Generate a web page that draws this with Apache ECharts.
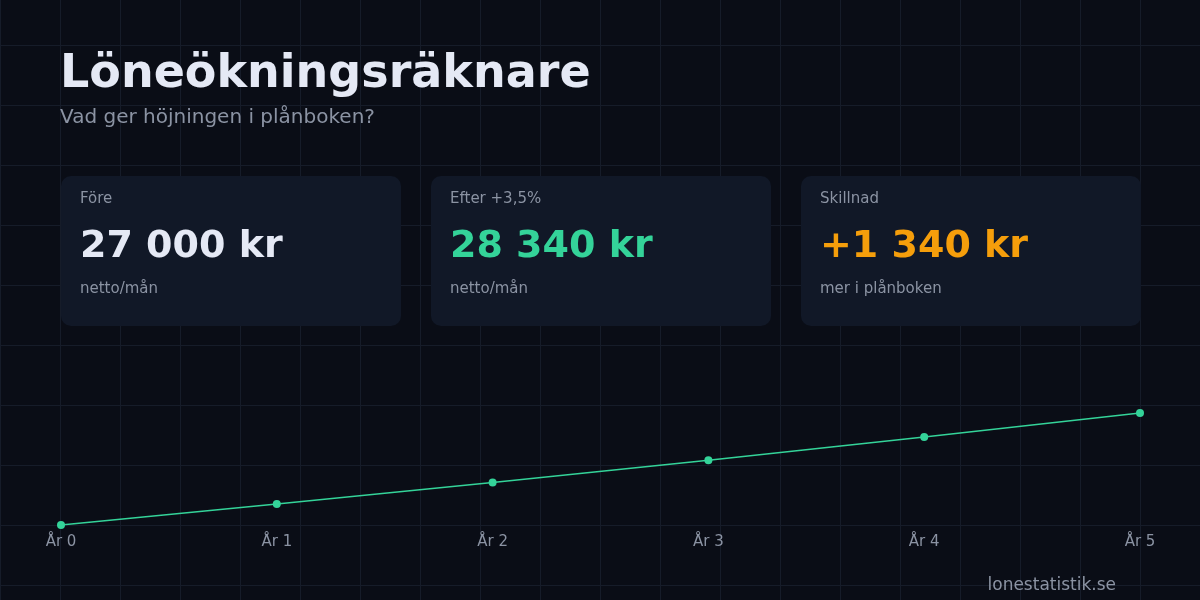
<!DOCTYPE html>
<html><head><meta charset="utf-8">
<script src="https://cdn.jsdelivr.net/npm/echarts@6/dist/echarts.min.js"></script>
<style>html,body{margin:0;padding:0;background:#0a0d16}#c{width:1200px;height:600px}</style>
</head><body><div id="c"></div>
<script>
const years = ['År 0','År 1','År 2','År 3','År 4','År 5'];
const salary = [27000, 27945, 28923, 29935, 30983, 32068];
const cards = [
  {label:'Före', value:'27 000 kr', sub:'netto/mån', color:'#e5e9f5'},
  {label:'Efter +3,5%', value:'28 340 kr', sub:'netto/mån', color:'#34d399'},
  {label:'Skillnad', value:'+1 340 kr', sub:'mer i plånboken', color:'#f59e0b'}
];
const font = 'DejaVu Sans';
function t(x, y, text, size, color, weight, align){
  return {type:'text', x:x, y:y, style:{text:text, fontFamily:font, fontSize:size, fontWeight:weight||'normal', fill:color, align:align||'left', verticalAlign:'middle'}};
}
const g = [];
for (let x = 0; x <= 1200; x += 60) g.push({type:'line', silent:true, z:-10, shape:{x1:x+0.5,y1:0,x2:x+0.5,y2:600}, style:{stroke:'#161c29',lineWidth:1}});
for (let y = 45; y <= 600; y += 60) g.push({type:'line', silent:true, z:-10, shape:{x1:0,y1:y+0.5,x2:1200,y2:y+0.5}, style:{stroke:'#161c29',lineWidth:1}});
g.push(t(60, 75, 'Löneökningsräknare', 46, '#e5e9f5', 'bold'));
g.push(t(60, 118, 'Vad ger höjningen i plånboken?', 20, '#8b93a3'));
cards.forEach((c,i)=>{
  const x = 61 + i*370;
  g.push({type:'rect', shape:{x:x,y:176,width:340,height:150,r:10}, style:{fill:'#111827'}});
  g.push(t(x+19, 199, c.label, 15, '#8b93a3'));
  g.push(t(x+19, 247, c.value, 38, c.color, 'bold'));
  g.push(t(x+19, 289, c.sub, 15, '#8b93a3'));
});
g.push(t(1116, 586, 'lonestatistik.se', 17, '#8b93a3', 'normal', 'right'));
const chart = echarts.init(document.getElementById('c'));
chart.setOption({
  backgroundColor:'#0a0d16',
  animation:false,
  graphic:g,
  grid:{left:61, right:60, top:345, bottom:75},
  xAxis:{type:'category', data:years, boundaryGap:false,
    axisLine:{show:false}, axisTick:{show:false}, splitLine:{show:false},
    axisLabel:{color:'#8b93a3', fontFamily:font, fontSize:15, margin:10}},
  yAxis:{type:'value', min:27000, max:35145, show:false, splitLine:{show:false}},
  series:[{type:'line', data:salary, symbol:'circle', symbolSize:8,
    lineStyle:{color:'#34d399', width:1.5}, itemStyle:{color:'#34d399'}}]
});
</script></body></html>
